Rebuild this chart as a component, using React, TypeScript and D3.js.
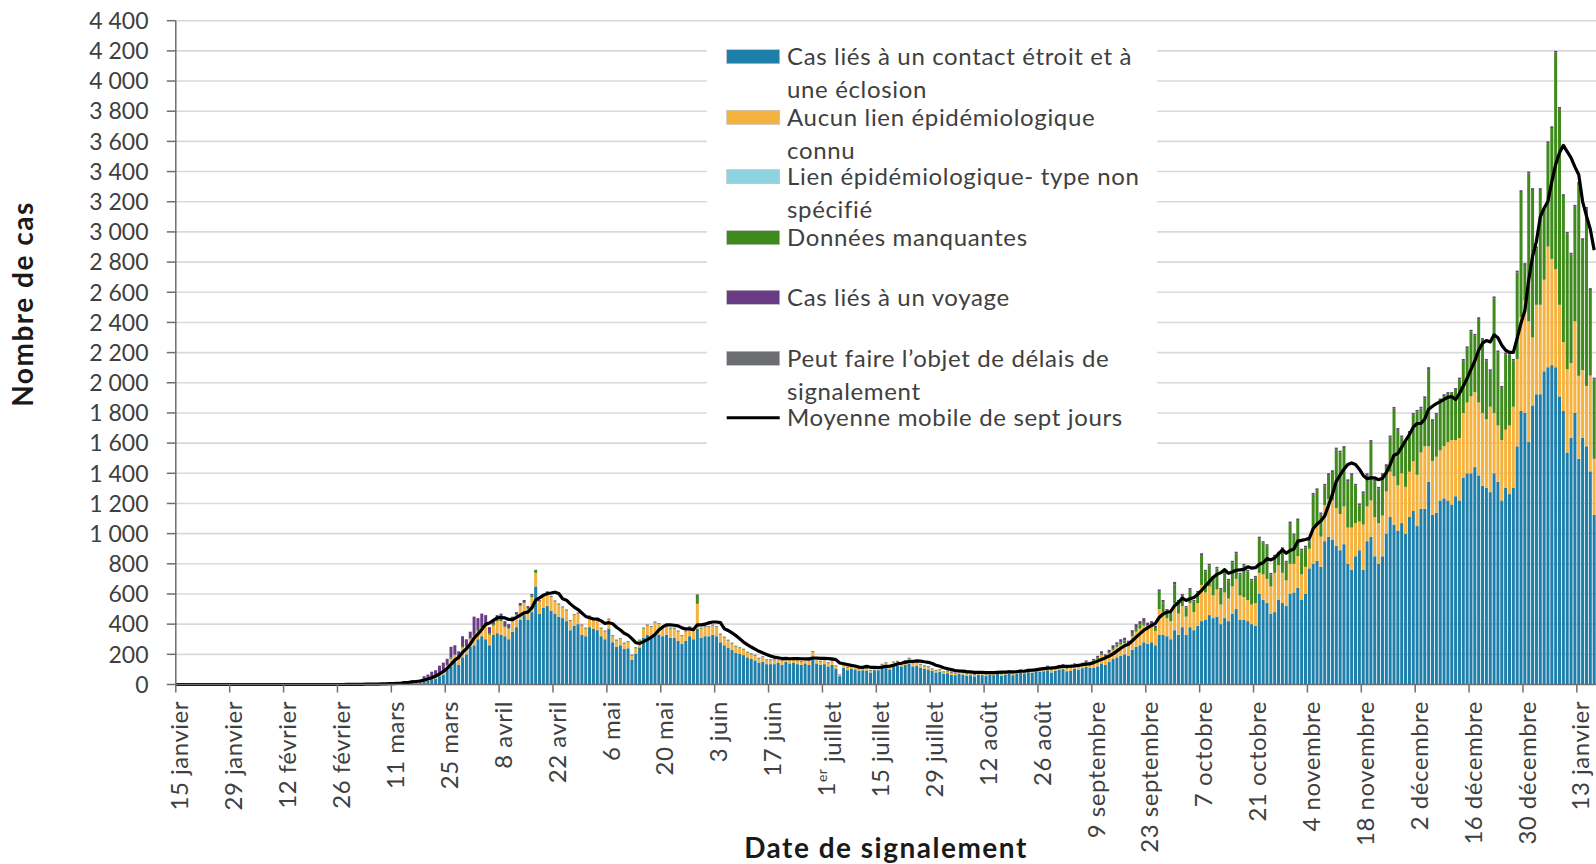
import React from "react";
import * as d3 from "d3";

// ---------- Axis labels ----------
const xTickLabels = [
  "15 janvier", "29 janvier", "12 février", "26 février", "11 mars", "25 mars",
  "8 avril", "22 avril", "6 mai", "20 mai", "3 juin", "17 juin", "1er juillet",
  "15 juillet", "29 juillet", "12 août", "26 août", "9 septembre", "23 septembre",
  "7 octobre", "21 octobre", "4 novembre", "18 novembre", "2 décembre",
  "16 décembre", "30 décembre", "13 janvier",
];
const yTicks = [0, 200, 400, 600, 800, 1000, 1200, 1400, 1600, 1800, 2000, 2200, 2400, 2600, 2800, 3000, 3200, 3400, 3600, 3800, 4000, 4200, 4400];

const seriesKeys = ["contact", "unknown", "unspecified", "missing", "travel", "delay"];
const seriesNames = [
  ["Cas liés à un contact étroit et à", "une éclosion"],
  ["Aucun lien épidémiologique", "connu"],
  ["Lien épidémiologique- type non", "spécifié"],
  ["Données manquantes"],
  ["Cas liés à un voyage"],
  ["Peut faire l’objet de délais de", "signalement"],
];
const seriesColors = ["#1f7fab", "#f6b23f", "#8fd3e0", "#3f8a1c", "#6b3c86", "#6d6e72"];
const lineName = "Moyenne mobile de sept jours";

// day index 0 = 15 janvier 2020 ; data starts on 24 février 2020 (day 40)
const firstDataDay = 40;

// ---------- Daily values (one row per week, from 24 février 2020) ----------
const contactCases = [
  0, 0, 0, 0, 0, 1, 0,
  1, 0, 1, 1, 1, 1, 2,
  2, 2, 2, 3, 4, 5, 6,
  8, 9, 10, 20, 25, 35, 40,
  55, 65, 100, 120, 150, 130, 180,
  200, 250, 260, 300, 320, 300, 260,
  330, 340, 330, 320, 300, 350, 380,
  430, 460, 430, 480, 650, 470, 510,
  520, 490, 470, 450, 440, 420, 360,
  390, 400, 330, 320, 380, 370, 360,
  320, 300, 370, 280, 250, 260, 235,
  240, 165, 205, 245, 310, 330, 320,
  340, 330, 320, 330, 310, 310, 290,
  270, 290, 320, 300, 370, 310, 320,
  320, 330, 320, 280, 260, 245, 230,
  210, 205, 195, 180, 170, 160, 145,
  150, 135, 135, 135, 145, 130, 150,
  140, 145, 135, 130, 140, 130, 180,
  140, 130, 135, 120, 130, 105, 55,
  110, 95, 105, 100, 90, 95, 90,
  80, 95, 95, 110, 120, 100, 125,
  125, 120, 130, 140, 120, 125, 110,
  105, 100, 90, 80, 85, 70, 75,
  65, 62, 70, 65, 58, 62, 54,
  66, 62, 58, 66, 62, 70, 58,
  66, 74, 62, 70, 78, 74, 82,
  78, 85, 85, 88, 95, 80, 92,
  98, 102, 88, 90, 105, 98, 108,
  118, 110, 110, 120, 140, 130, 150,
  170, 180, 190, 200, 190, 230, 250,
  260, 280, 270, 280, 260, 330, 330,
  320, 300, 360, 330, 380, 330, 380,
  360, 390, 420, 430, 460, 440, 450,
  400, 440, 420, 470, 500, 430, 430,
  420, 400, 390, 600, 560, 540, 470,
  480, 560, 540, 520, 600, 610, 640,
  560, 600, 770, 800, 820, 780, 950,
  980, 960, 920, 890, 930, 800, 760,
  850, 890, 760, 950, 980, 850, 800,
  850, 1000, 1110, 1060, 1020, 1070, 1000,
  1110, 1150, 1050, 1165, 1165, 1344, 1124,
  1138, 1220, 1234, 1220, 1193, 1248, 1220,
  1372, 1400, 1400, 1441, 1386, 1317, 1303,
  1275, 1400, 1344, 1220, 1303, 1262, 1303,
  1579, 1813, 1800, 1607, 1850, 1924, 1924,
  2076, 2103, 2117, 2103, 1910, 1813, 1538,
  1634, 1800, 1496, 1634, 1579, 1413, 1124,
];

const unknownLink = [
  0, 0, 0, 0, 0, 0, 0,
  0, 0, 0, 0, 1, 0, 1,
  1, 1, 1, 1, 2, 2, 2,
  3, 3, 3, 5, 6, 8, 10,
  12, 15, 25, 50, 45, 35, 65,
  50, 50, 60, 50, 55, 90, 70,
  60, 80, 90, 60, 70, 70, 80,
  90, 80, 70, 100, 90, 80, 80,
  90, 90, 80, 80, 70, 70, 60,
  70, 70, 60, 50, 70, 60, 60,
  50, 50, 60, 40, 40, 40, 35,
  40, 25, 35, 45, 60, 60, 60,
  70, 70, 60, 60, 60, 60, 60,
  50, 60, 60, 60, 165, 60, 60,
  60, 60, 60, 50, 50, 45, 40,
  40, 35, 35, 30, 30, 30, 25,
  30, 25, 25, 25, 25, 25, 25,
  25, 25, 25, 20, 25, 25, 35,
  25, 20, 25, 20, 25, 15, 10,
  20, 15, 15, 15, 10, 15, 15,
  10, 15, 15, 20, 20, 20, 20,
  25, 20, 25, 30, 20, 25, 20,
  15, 15, 10, 10, 10, 10, 10,
  10, 10, 12, 12, 10, 10, 8,
  11, 10, 9, 11, 10, 12, 9,
  11, 13, 10, 12, 14, 13, 15,
  14, 16, 16, 18, 20, 16, 18,
  20, 21, 17, 19, 22, 20, 23,
  25, 24, 40, 45, 55, 45, 55,
  60, 70, 75, 75, 70, 90, 100,
  110, 110, 100, 100, 95, 170, 150,
  120, 120, 180, 140, 140, 120, 160,
  120, 150, 240, 180, 190, 150, 180,
  130, 170, 150, 180, 200, 160, 150,
  140, 130, 150, 140, 170, 160, 180,
  260, 230, 200, 170, 200, 190, 210,
  170, 180, 130, 230, 230, 200, 240,
  250, 260, 250, 240, 250, 240, 280,
  220, 190, 300, 230, 240, 260, 270,
  270, 280, 300, 320, 300, 330, 310,
  300, 330, 340, 373, 414, 235, 358,
  372, 331, 345, 387, 427, 372, 414,
  428, 469, 510, 497, 483, 483, 455,
  566, 400, 373, 400, 386, 455, 538,
  579, 621, 745, 800, 450, 593, 593,
  607, 800, 704, 649, 607, 456, 551,
  497, 607, 550, 450, 400, 635, 372,
];

const unspecifiedLink: number[] = [];

const missingData = [
  0, 0, 0, 0, 0, 0, 0,
  0, 0, 0, 0, 0, 0, 0,
  0, 0, 0, 0, 0, 0, 0,
  0, 0, 0, 0, 0, 0, 0,
  3, 5, 5, 10, 5, 5, 10,
  5, 5, 10, 10, 5, 10, 10,
  10, 10, 10, 5, 5, 5, 5,
  5, 5, 5, 10, 20, 5, 5,
  4, 4, 4, 4, 4, 4, 4,
  4, 4, 4, 4, 4, 4, 4,
  4, 4, 4, 4, 4, 4, 4,
  4, 4, 4, 4, 4, 4, 4,
  4, 4, 4, 4, 4, 4, 4,
  4, 4, 4, 4, 60, 4, 4,
  4, 4, 4, 4, 4, 4, 4,
  4, 4, 4, 4, 4, 4, 4,
  4, 4, 4, 4, 4, 4, 4,
  4, 4, 4, 4, 4, 4, 4,
  4, 4, 4, 4, 4, 4, 0,
  4, 4, 4, 4, 4, 4, 4,
  4, 4, 4, 4, 4, 4, 4,
  4, 4, 4, 4, 4, 4, 4,
  4, 4, 4, 4, 4, 4, 4,
  5, 4, 4, 4, 3, 4, 4,
  4, 4, 4, 4, 4, 4, 4,
  4, 4, 4, 4, 4, 4, 4,
  4, 5, 5, 5, 5, 5, 5,
  6, 6, 5, 5, 6, 6, 7,
  8, 8, 10, 13, 10, 13, 10,
  12, 15, 15, 17, 15, 20, 25,
  30, 25, 20, 22, 20, 115, 65,
  48, 48, 125, 78, 68, 60, 88,
  70, 70, 198, 140, 140, 120, 140,
  102, 140, 120, 160, 170, 140, 210,
  190, 160, 170, 230, 210, 220, 80,
  110, 80, 160, 120, 270, 190, 240,
  160, 130, 48, 228, 238, 148, 128,
  158, 188, 388, 408, 388, 308, 348,
  248, 108, 208, 208, 388, 238, 228,
  268, 168, 228, 448, 368, 238, 298,
  258, 308, 418, 291, 319, 512, 264,
  278, 333, 333, 319, 306, 333, 388,
  346, 360, 429, 374, 553, 484, 388,
  236, 760, 485, 347, 499, 471, 305,
  573, 830, 236, 981, 978, 374, 761,
  455, 685, 867, 1436, 1299, 969, 899,
  719, 760, 1273, 862, 1174, 567, 526,
];

const travelCases = [
  0, 0, 0, 1, 1, 1, 1,
  2, 2, 3, 2, 3, 3, 3,
  5, 6, 7, 10, 10, 13, 14,
  17, 18, 19, 30, 35, 42, 45,
  55, 60, 40, 70, 60, 50, 65,
  45, 45, 120, 80, 90, 60, 40,
  30, 30, 40, 35, 25, 25, 15,
  15, 15, 15, 10, 0, 5, 5,
  4, 4, 3, 3, 3, 3, 3,
  3, 3, 3, 3, 3, 3, 3,
  3, 3, 3, 3, 3, 3, 3,
  3, 3, 3, 3, 3, 3, 3,
  3, 3, 3, 3, 3, 3, 3,
  3, 3, 3, 3, 3, 3, 3,
  3, 3, 3, 3, 3, 3, 3,
  3, 3, 3, 3, 3, 3, 3,
  3, 3, 3, 3, 3, 3, 3,
  3, 3, 3, 3, 3, 3, 3,
  3, 3, 3, 3, 3, 3, 3,
  3, 3, 3, 3, 3, 3, 3,
  3, 3, 3, 3, 3, 3, 3,
  3, 3, 3, 3, 3, 3, 3,
  3, 3, 3, 3, 3, 3, 3,
  5, 4, 4, 4, 4, 4, 4,
  4, 4, 4, 4, 4, 4, 4,
  4, 4, 4, 4, 4, 4, 4,
  4, 4, 4, 4, 5, 4, 5,
  6, 6, 5, 6, 7, 6, 7,
  9, 8, 10, 12, 15, 12, 15,
  18, 15, 20, 18, 15, 20, 25,
  20, 25, 20, 18, 15, 15, 15,
  12, 12, 15, 12, 12, 10, 12,
  10, 10, 12, 10, 10, 10, 10,
  8, 10, 10, 10, 10, 10, 10,
  10, 10, 10, 10, 10, 10, 10,
  10, 10, 10, 10, 10, 10, 10,
  10, 10, 12, 12, 12, 12, 12,
  12, 12, 12, 12, 12, 12, 12,
  12, 12, 12, 12, 12, 12, 12,
  12, 12, 12, 12, 12, 12, 12,
  12, 12, 12, 12, 12, 12, 12,
  12, 12, 12, 12, 12, 12, 12,
  12, 12, 12, 12, 12, 12, 12,
  12, 12, 12, 12, 12, 12, 12,
  12, 12, 12, 12, 12, 12, 12,
  12, 12, 12, 12, 12, 12, 12,
  12, 12, 12, 12, 12, 12, 12,
];

const reportingDelay: number[] = [];

const FONT = "Lato, 'Noto Sans', sans-serif";

export default function App() {
  const W = 1596;
  const H = 864;
  const axisX = 175.8;
  const axisY = 684.5;
  const pxPerDay = 3.849;
  const lastDomainDay = 372;

  const x = d3.scaleLinear().domain([0, lastDomainDay]).range([axisX, axisX + pxPerDay * lastDomainDay]);
  const y = d3.scaleLinear().domain([0, 4400]).range([axisY, 20.7]);

  const rows = contactCases.map((c, k) => ({
    day: firstDataDay + k,
    contact: c,
    unknown: unknownLink[k] ?? 0,
    unspecified: unspecifiedLink[k] ?? 0,
    missing: missingData[k] ?? 0,
    travel: travelCases[k] ?? 0,
    delay: reportingDelay[k] ?? 0,
  }));
  const stacked = d3.stack<any>().keys(seriesKeys)(rows as any);

  const nDays = firstDataDay + rows.length;
  const totals = d3.range(nDays).map((d) =>
    d < firstDataDay ? 0 : d3.sum(seriesKeys, (k) => (rows[d - firstDataDay] as any)[k])
  );
  const avg = totals.map((_, d) => d3.mean(totals.slice(Math.max(0, d - 6), d + 1)) as number);
  const linePath = d3
    .line<number>()
    .x((_, d) => (d === 0 ? x(0) : x(d + 0.5)))
    .y((v) => y(v))
    .curve(d3.curveLinear)(avg);

  const slot = pxPerDay;
  const barW = slot * 0.78;

  const gridColor = "#d9d9d9";
  const axisColor = "#6f6f6f";
  const textColor = "#404040";

  const legendX = 726.7;
  const legendTextX = 787;
  const legendRowY = [56.7, 117.3, 176.7, 237.7, 297.3, 358.3];
  const legendLineY = 417.7;
  const lineGap = 32.6;
  const legendFont = 24;
  const legendSpacing = 0.65;

  return (
    <div style={{ position: "absolute", left: 0, top: 0, width: W, height: H, overflow: "hidden", background: "#fff" }}>
      <svg width={W} height={H} style={{ display: "block", fontFamily: FONT }}>
        <rect x={0} y={0} width={W} height={H} fill="#fff" />
        {/* gridlines */}
        {yTicks.filter((t) => t > 0).map((t) => (
          <line key={"g" + t} x1={axisX} x2={W} y1={y(t)} y2={y(t)} stroke={gridColor} strokeWidth={1.6} />
        ))}
        {/* bars */}
        {stacked.map((layer, li) => (
          <g key={seriesKeys[li]} fill={seriesColors[li]}>
            {layer.map((seg: any, k: number) => {
              const h = y(seg[0]) - y(seg[1]);
              if (h <= 0) return null;
              return (
                <rect key={k} x={x(seg.data.day) + (slot - barW) / 2} width={barW} y={y(seg[1])} height={h} />
              );
            })}
          </g>
        ))}
        {/* moving average */}
        <path d={linePath || ""} fill="none" stroke="#000" strokeWidth={3.2} strokeLinejoin="round" />
        {/* axes */}
        <line x1={axisX} x2={axisX} y1={y(4400)} y2={axisY} stroke={axisColor} strokeWidth={1.5} />
        <line x1={axisX} x2={W} y1={axisY} y2={axisY} stroke={axisColor} strokeWidth={1.5} />
        {yTicks.map((t) => (
          <g key={"yt" + t}>
            <line x1={axisX - 9} x2={axisX} y1={y(t)} y2={y(t)} stroke={axisColor} strokeWidth={1.5} />
            <text x={148.5} y={y(t)} dy="0.36em" textAnchor="end" fontSize={23} fill={textColor}>
              {d3.format(",")(t).replace(/,/g, " ")}
            </text>
          </g>
        ))}
        {xTickLabels.map((lab, i) => {
          const tx = x(i * 14);
          const sup = lab.startsWith("1er ");
          return (
            <g key={"xt" + i}>
              <line x1={tx} x2={tx} y1={axisY} y2={axisY + 8} stroke={axisColor} strokeWidth={1.5} />
              <text
                transform={`translate(${tx + 4},701) rotate(-90)`}
                textAnchor="end"
                dy="0.36em"
                fontSize={24}
                letterSpacing={0.5}
                fill={textColor}
              >
                {sup ? (
                  <>
                    <tspan>1</tspan>
                    <tspan fontSize={14} dy="-0.6em">er</tspan>
                    <tspan dy="0.6em">{" " + lab.slice(4)}</tspan>
                  </>
                ) : (
                  lab
                )}
              </text>
            </g>
          );
        })}
        {/* axis titles */}
        <text transform="translate(33,304) rotate(-90)" textAnchor="middle" fontSize={28} letterSpacing={1.5} fontWeight="bold" fill="#1a1a1a">
          Nombre de cas
        </text>
        <text x={886} y={858} textAnchor="middle" fontSize={28} letterSpacing={1.5} fontWeight="bold" fill="#1a1a1a">
          Date de signalement
        </text>
        {/* legend */}
        <rect x={707} y={39} width={450} height={405} fill="#fff" />
        {seriesNames.map((lines, i) => (
          <g key={"lg" + i}>
            <rect x={legendX} y={legendRowY[i] - 7} width={53} height={14} fill={seriesColors[i]} stroke="#bdbdbd" strokeWidth={0.6} />
            {lines.map((ln, j) => (
              <text key={j} x={legendTextX} y={legendRowY[i] + j * lineGap} dy="0.36em" fontSize={legendFont} letterSpacing={legendSpacing} fill={textColor}>
                {ln}
              </text>
            ))}
          </g>
        ))}
        <line x1={legendX} x2={legendX + 53} y1={legendLineY} y2={legendLineY} stroke="#000" strokeWidth={3} />
        <text x={legendTextX} y={legendLineY} dy="0.36em" fontSize={legendFont} letterSpacing={legendSpacing} fill={textColor}>
          {lineName}
        </text>
      </svg>
    </div>
  );
}
